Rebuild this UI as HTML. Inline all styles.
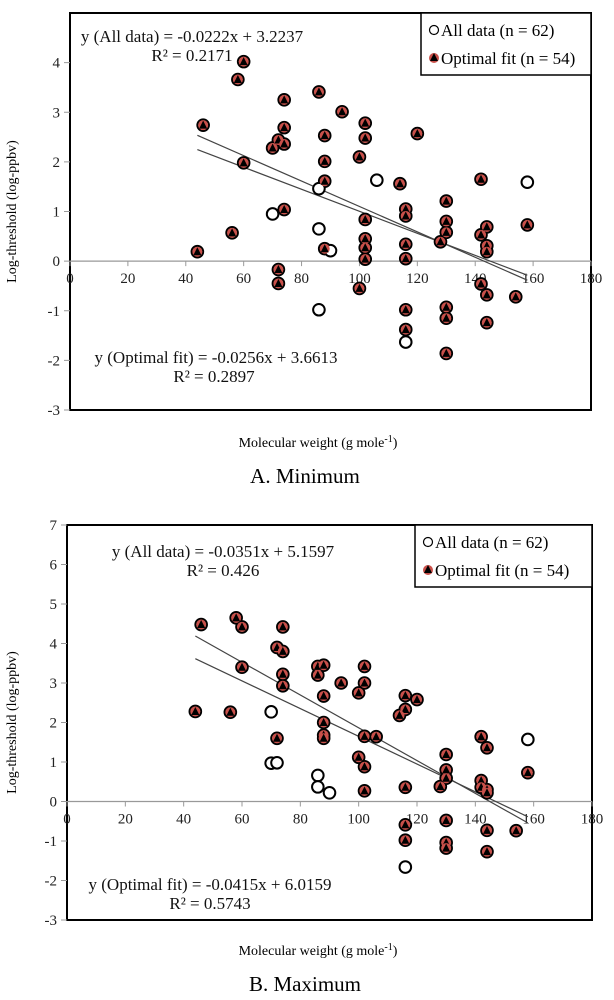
<!DOCTYPE html>
<html><head><meta charset="utf-8">
<style>
html,body{margin:0;padding:0;background:#fff;width:614px;height:1000px;overflow:hidden}
svg{display:block;font-family:"Liberation Serif",serif}
</style></head>
<body>
<svg id="svg" width="614" height="1000" viewBox="0 0 614 1000">
<g id="chartA"></g>
<g id="chartB"></g>
</svg>
<script>
// ---- Chart A (Minimum) data ----
const aOptX=[60,58,74,86,94,46,74,88,72,70,74,60,88,88,74,56,44,88,72,72,100,102,102,100,120,114,142,130,116,116,102,130,130,144,158,142,128,102,102,116,144,144,102,116,142,144,154,116,116,130,130,144,130];
const aOptY=[4.02,3.66,3.25,3.41,3.01,2.74,2.69,2.53,2.44,2.28,2.36,1.98,2.01,1.61,1.04,0.57,0.19,0.25,-0.17,-0.45,-0.55,2.78,2.48,2.1,2.57,1.56,1.65,1.21,1.05,0.91,0.84,0.8,0.58,0.69,0.73,0.53,0.39,0.45,0.27,0.34,0.31,0.19,0.04,0.05,-0.46,-0.68,-0.72,-0.98,-1.38,-0.93,-1.15,-1.24,-1.86];
const aExtraX=[86,70,86,90,86,106,158,116];
const aExtraY=[1.46,0.95,0.65,0.21,-0.98,1.63,1.59,-1.63];
const aFitAll=[-0.0222,3.2237];
const aFitOpt=[-0.0256,3.6613];
// ---- Chart B (Maximum) data ----
const bOptX=[46,58,60,74,72,74,60,86,88,86,74,74,94,88,100,44,56,88,88,88,72,100,102,102,116,120,116,114,102,106,142,144,130,102,130,130,158,142,142,144,144,128,116,102,130,116,116,130,130,144,144,154];
const bOptY=[4.48,4.65,4.42,4.42,3.9,3.8,3.4,3.42,3.45,3.2,3.22,2.93,3.0,2.67,2.75,2.28,2.26,2.0,1.68,1.6,1.6,1.12,3.42,3.0,2.68,2.58,2.33,2.18,1.65,1.64,1.64,1.36,1.19,0.88,0.8,0.59,0.73,0.53,0.36,0.3,0.22,0.38,0.36,0.27,-0.48,-0.59,-0.98,-1.04,-1.18,-0.73,-1.27,-0.74];
const bExtraX=[70,70,72,86,86,90,158,116];
const bExtraY=[2.27,0.97,0.98,0.66,0.37,0.22,1.57,-1.66];
const bFitAll=[-0.0351,5.1597];
const bFitOpt=[-0.0415,6.0159];
const xTicks=[0,20,40,60,80,100,120,140,160,180];
const aYTicks=[-3,-2,-1,0,1,2,3,4];
const bYTicks=[-3,-2,-1,0,1,2,3,4,5,6,7];

const NS="http://www.w3.org/2000/svg";
function mk(parent,tag,attrs,text){const e=document.createElementNS(NS,tag);for(const k in attrs)e.setAttribute(k,attrs[k]);if(text!==undefined)e.textContent=text;parent.appendChild(e);return e;}

function draw(g,c){
  const sx=v=>c.L+(v-0)/180*(c.R-c.L);
  const sy=v=>c.B-(v-c.ymin)/(c.ymax-c.ymin)*(c.B-c.T);
  const fr=mk(g,'rect',{x:c.L,y:c.T,width:c.R-c.L,height:c.B-c.T,fill:'none',stroke:'#000','stroke-width':2});
  
  
  const y0=sy(0);
  const xa=mk(g,'line',{x1:c.L,x2:c.R,y1:y0,y2:y0,stroke:'#999','stroke-width':1.2});
  
  
  xTicks.forEach(t=>{
    mk(g,'line',{x1:sx(t),x2:sx(t),y1:y0,y2:y0+5,stroke:'#999','stroke-width':1});
    const tl=mk(g,'text',{x:sx(t),y:y0+22,'font-size':15,'text-anchor':'middle',fill:'#222'},String(t));
    
    
  });
  c.yTicks.forEach(t=>{
    mk(g,'line',{x1:c.L-6,x2:c.L,y1:sy(t),y2:sy(t),stroke:'#999','stroke-width':1});
    const tl=mk(g,'text',{x:c.L-10,y:sy(t)+5,'font-size':15,'text-anchor':'end',fill:'#222'},String(t));
    
    
  });
  [c.fitAll,c.fitOpt].forEach((f,i)=>{
    const ln=mk(g,'line',{x1:sx(44),y1:sy(f[0]*44+f[1]),x2:sx(158),y2:sy(f[0]*158+f[1]),stroke:'#444','stroke-width':1.2});
    
    
  });
  const ax=c.optX.concat(c.exX), ay=c.optY.concat(c.exY);
  ax.forEach((x,i)=>{
    const p=mk(g,'circle',{cx:sx(x),cy:sy(ay[i]),r:5.8,fill:'#fff',stroke:'#000','stroke-width':2});
    
    
  });
  c.optX.forEach((x,i)=>{
    const X=sx(x),Y=sy(c.optY[i]);
    const r=mk(g,'circle',{cx:X,cy:Y,r:5,fill:'#c9504a'});
    
    
    mk(g,'polygon',{points:`${X},${Y-4.5} ${X+4},${Y+3.5} ${X-4},${Y+3.5}`,fill:'#000'});
  });
  const lg=mk(g,'g',{});
  
  
  mk(lg,'rect',{x:c.lgX,y:c.T,width:c.R-c.lgX,height:62,fill:'#fff',stroke:'#000','stroke-width':1.5});
  mk(lg,'circle',{cx:c.lgX+13,cy:c.T+17,r:4.5,fill:'none',stroke:'#000','stroke-width':1.2});
  const l1=mk(lg,'text',{x:c.lgX+20,y:c.T+23,'font-size':17},'All data (n = 62)');
  
  
  mk(lg,'circle',{cx:c.lgX+13,cy:c.T+45,r:5,fill:'#c9504a'});
  mk(lg,'polygon',{points:`${c.lgX+13},${c.T+40} ${c.lgX+17},${c.T+48} ${c.lgX+9},${c.T+48}`,fill:'#000'});
  const l2=mk(lg,'text',{x:c.lgX+20,y:c.T+51,'font-size':17},'Optimal fit (n = 54)');
  
  
  c.eqs.forEach(e=>{
    const t=mk(g,'text',{x:e[0],y:e[1],'font-size':17,'text-anchor':'middle',fill:'#111'},e[2]);
    
    
  });
  const yt=mk(g,'text',{x:0,y:0,'font-size':14,'text-anchor':'middle',transform:`translate(${c.ytX},${(c.T+c.B)/2}) rotate(-90)`},'Log-threshold (log-ppbv)');
  
  
  const xt=mk(g,'text',{x:c.xtCx,y:c.xtY,'font-size':14,'text-anchor':'middle'},'');
  xt.innerHTML='Molecular weight (g mole<tspan dy="-5" font-size="10">-1</tspan><tspan dy="5">)</tspan>';
  
  
  const ct=mk(g,'text',{x:c.capX,y:c.capY,'font-size':21,'text-anchor':'middle'},c.cap);
  
  
}
draw(document.getElementById('chartA'),{L:70,R:591,T:13,B:410,ymin:-3,ymax:5,yTicks:aYTicks,
  optX:aOptX,optY:aOptY,exX:aExtraX,exY:aExtraY,fitAll:aFitAll,fitOpt:aFitOpt,lgX:421,
  eqs:[[192,42,'y (All data)  = -0.0222x + 3.2237'],[192,61,'R² = 0.2171'],[216,363,'y (Optimal fit) = -0.0256x + 3.6613'],[214,382,'R² = 0.2897']],
  ytX:16,xtCx:318,xtY:447,capX:305,capY:483,cap:'A. Minimum'});
draw(document.getElementById('chartB'),{L:67,R:592,T:525,B:920,ymin:-3,ymax:7,yTicks:bYTicks,
  optX:bOptX,optY:bOptY,exX:bExtraX,exY:bExtraY,fitAll:bFitAll,fitOpt:bFitOpt,lgX:415,
  eqs:[[223,557,'y (All data) = -0.0351x + 5.1597'],[223,576,'R² = 0.426'],[210,890,'y (Optimal fit) = -0.0415x + 6.0159'],[210,909,'R² = 0.5743']],
  ytX:16,xtCx:318,xtY:955,capX:305,capY:991,cap:'B. Maximum'});
</script>
</body></html>
